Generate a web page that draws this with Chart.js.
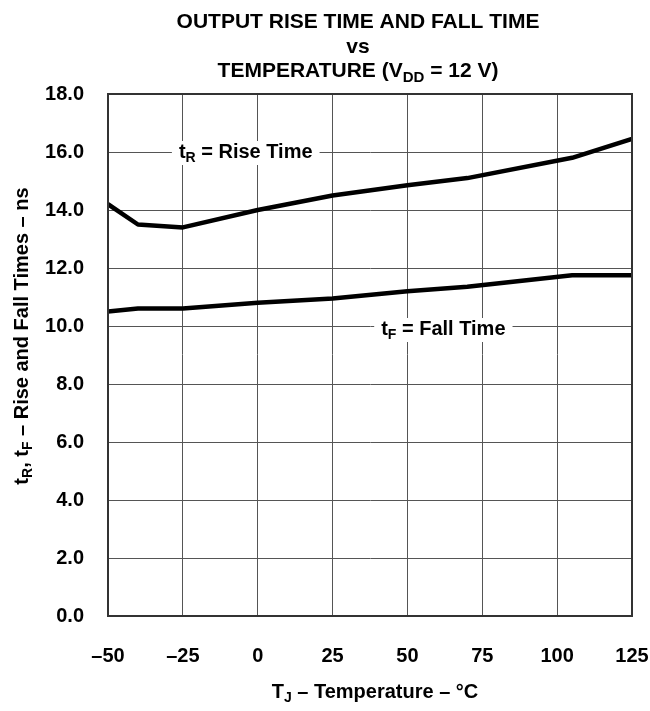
<!DOCTYPE html>
<html>
<head>
<meta charset="utf-8">
<script src="https://cdn.jsdelivr.net/npm/chart.js@4"></script>
<style>
  body { margin: 0; background: #fff; }
  #wrap { width: 650px; height: 711px; }
</style>
</head>
<body>
<div id="wrap"><canvas id="myChart" width="650" height="711"></canvas></div>
<script>
// temperatures (°C) and times (ns)
var riseTemp = [-50, -40, -25, 0, 25, 50, 70, 105, 125];
var riseTime = [14.2, 13.5, 13.4, 14.0, 14.5, 14.85, 15.1, 15.8, 16.45];
var fallTemp = [-50, -40, -25, 0, 25, 50, 70, 105, 125];
var fallTime = [10.5, 10.6, 10.6, 10.8, 10.95, 11.2, 11.35, 11.75, 11.75];
var xTicks = [-50, -25, 0, 25, 50, 75, 100, 125];
var yTicks = [0, 2, 4, 6, 8, 10, 12, 14, 16, 18];

var FONT = 'Liberation Sans, Arial, sans-serif';

function toPoints(xs, ys) {
    var pts = [];
    for (var i = 0; i < xs.length; i++) {
        pts.push({ x: xs[i], y: ys[i] });
    }
    return pts;
}

// draw text made of pieces, some of them subscript; returns width
function richText(ctx, parts, size, x, y, align, measureOnly) {
    var w = 0;
    parts.forEach(function(p) {
        ctx.font = 'bold ' + (p.sub ? Math.round(size * 0.72) : size) + 'px ' + FONT;
        w += ctx.measureText(p.t).width;
    });
    if (measureOnly) return w;
    var cx = align == 'center' ? x - w / 2 : x;
    parts.forEach(function(p) {
        ctx.font = 'bold ' + (p.sub ? Math.round(size * 0.72) : size) + 'px ' + FONT;
        ctx.fillText(p.t, cx, p.sub ? y + size * 0.32 : y);
        cx += ctx.measureText(p.t).width;
    });
    return w;
}

var textPlugin = {
    id: 'texts',
    afterDatasetsDraw: function(chart) {
        var ctx = chart.ctx;
        var xs = chart.scales.x, ys = chart.scales.y;
        ctx.save();
        ctx.fillStyle = '#000';
        ctx.textBaseline = 'middle';
        ctx.textAlign = 'left';

        // title
        var cx = 358;
        richText(ctx, [{ t: 'OUTPUT RISE TIME AND FALL TIME' }], 21, cx, 22, 'center');
        richText(ctx, [{ t: 'vs' }], 21, cx, 47, 'center');
        richText(ctx, [{ t: 'TEMPERATURE (V' }, { t: 'DD', sub: true }, { t: ' = 12 V)' }], 21, cx, 71, 'center');

        // curve labels with white boxes over the grid
        var labels = [
            { parts: [{ t: 't' }, { t: 'R', sub: true }, { t: ' = Rise Time' }], x: xs.getPixelForValue(-4), y: ys.getPixelForValue(16) },
            { parts: [{ t: 't' }, { t: 'F', sub: true }, { t: ' = Fall Time' }], x: xs.getPixelForValue(62), y: ys.getPixelForValue(10) + 3 }
        ];
        labels.forEach(function(l) {
            var w = richText(ctx, l.parts, 20, 0, 0, 'left', true);
            ctx.fillStyle = '#fff';
            ctx.fillRect(l.x - w / 2 - 7, l.y - 11, w + 14, 24);
            ctx.fillStyle = '#000';
            richText(ctx, l.parts, 20, l.x, l.y, 'center');
        });

        // x axis title
        richText(ctx, [{ t: 'T' }, { t: 'J', sub: true }, { t: ' \u2013 Temperature \u2013 \u00B0C' }], 20,
            375, 692, 'center');

        // y axis title, rotated
        ctx.translate(22, 336);
        ctx.rotate(-Math.PI / 2);
        richText(ctx, [{ t: 't' }, { t: 'R', sub: true }, { t: ', t' }, { t: 'F', sub: true }, { t: ' \u2013 Rise and Fall Times \u2013 ns' }], 20, 0, 0, 'center');
        ctx.restore();
    }
};

var ctx = document.getElementById('myChart');
var myChart = new Chart(ctx, {
    type: 'line',
    data: {
        datasets: [
            {
                label: 'Rise',
                data: toPoints(riseTemp, riseTime),
                borderColor: '#000',
                borderWidth: 4.5,
                pointRadius: 0,
                tension: 0,
                borderJoinStyle: 'round'
            },
            {
                label: 'Fall',
                data: toPoints(fallTemp, fallTime),
                borderColor: '#000',
                borderWidth: 4.5,
                pointRadius: 0,
                tension: 0,
                borderJoinStyle: 'round'
            }
        ]
    },
    options: {
        responsive: false,
        animation: false,
        layout: { padding: { top: 94, right: 18, left: 0, bottom: 0 } },
        plugins: { legend: { display: false }, tooltip: { enabled: false }, title: { display: false } },
        scales: {
            x: {
                type: 'linear',
                min: xTicks[0],
                max: xTicks[xTicks.length - 1],
                afterBuildTicks: function(scale) {
                    scale.ticks = xTicks.map(function(v) { return { value: v }; });
                },
                afterFit: function(scale) {
                    scale.height = 95;
                    scale.paddingLeft = 0;
                    scale.paddingRight = 0;
                },
                ticks: {
                    padding: 28,
                    color: '#000',
                    font: { family: FONT, size: 20, weight: 'bold' },
                    callback: function(v) { return v < 0 ? '\u2013' + Math.abs(v) : String(v); }
                },
                grid: { color: '#555', lineWidth: 1, drawTicks: false },
                border: { color: '#333', width: 2 }
            },
            y: {
                min: yTicks[0],
                max: yTicks[yTicks.length - 1],
                afterBuildTicks: function(scale) {
                    scale.ticks = yTicks.map(function(v) { return { value: v }; });
                },
                afterFit: function(scale) {
                    scale.width = 108;
                    scale.paddingTop = 0;
                    scale.paddingBottom = 0;
                },
                ticks: {
                    padding: 24,
                    color: '#000',
                    font: { family: FONT, size: 20, weight: 'bold' },
                    callback: function(v) { return v.toFixed(1); }
                },
                grid: { color: '#555', lineWidth: 1, drawTicks: false },
                border: { color: '#333', width: 2 }
            }
        }
    },
    plugins: [textPlugin, {
        id: 'frame',
        afterDraw: function(chart) {
            var a = chart.chartArea, c = chart.ctx;
            c.save();
            c.strokeStyle = '#333';
            c.lineWidth = 2;
            c.strokeRect(a.left, a.top, a.right - a.left, a.bottom - a.top);
            c.restore();
        }
    }]
});
</script>
</body>
</html>
